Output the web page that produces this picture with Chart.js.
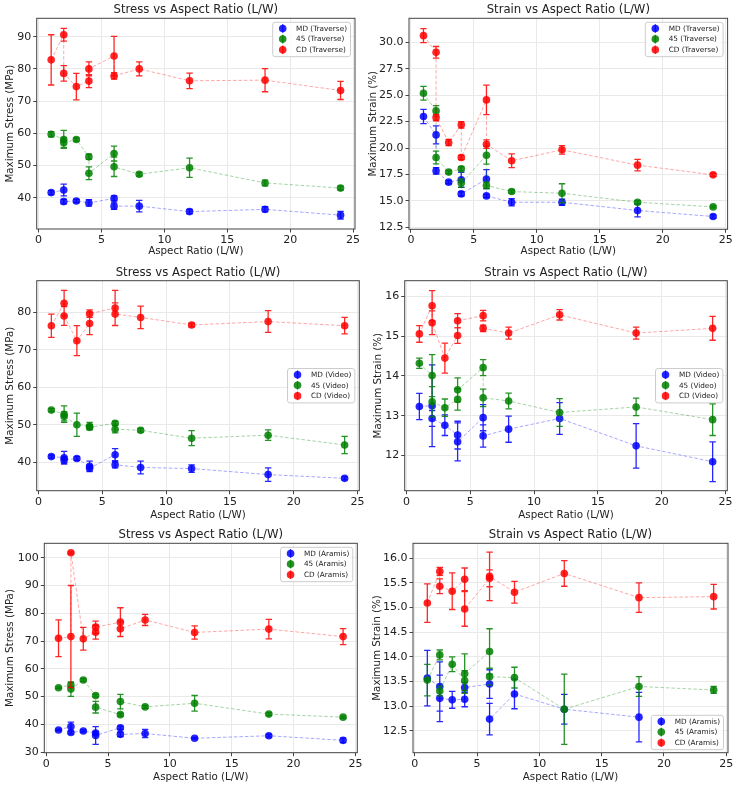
<!DOCTYPE html>
<html>
<head>
<meta charset="utf-8">
<script src="https://cdn.jsdelivr.net/npm/chart.js@4.4.1/dist/chart.umd.min.js"></script>
<style>
  html, body { margin: 0; padding: 0; background: #fff; }
  #wrap { position: relative; width: 736px; height: 788px; overflow: hidden; }
  #wrap canvas { position: absolute; left: 0; top: 0; }
</style>
</head>
<body>
<div id="wrap">
  <canvas id="stressTrav" width="736" height="788"></canvas>
  <canvas id="strainTrav" width="736" height="788"></canvas>
  <canvas id="stressVideo" width="736" height="788"></canvas>
  <canvas id="strainVideo" width="736" height="788"></canvas>
  <canvas id="stressAramis" width="736" height="788"></canvas>
  <canvas id="strainAramis" width="736" height="788"></canvas>
</div>
<script>
// x positions shared by every series (duplicates = repeated specimens)
const aspectRatio = [1, 2, 2, 3, 4, 4, 6, 6, 8, 12, 18, 24];
const xTicks = [0, 5, 10, 15, 20, 25];

// Traverse - stress
const travStressMD = [41.6, 42.4, 38.8, 39.0, 38.4, null, 39.8, 37.4, 37.4, 35.7, 36.4, 34.6];
const travStressMDErr = [0.6, 1.8, 0.7, 0.5, 1.0, null, 0.8, 1.0, 1.8, 0.7, 0.8, 1.2];
const travStress45 = [59.7, 58.1, 57.1, 58.1, 52.7, 47.6, 53.7, 49.6, 47.3, 49.3, 44.6, 43.0];
const travStress45Err = [0.8, 2.8, 1.5, 0.5, 0.8, 2.0, 2.3, 3.0, 0.6, 3.0, 0.9, 0.6];
const travStressCD = [82.8, 90.6, 78.6, 74.5, 76.2, 80.0, 84.0, 77.8, 80.0, 76.3, 76.5, 73.3];
const travStressCDErr = [7.8, 2.0, 2.4, 4.1, 2.0, 2.2, 6.1, 1.0, 2.2, 2.4, 3.6, 2.8];

// Traverse - strain
const travStrainMD = [22.98, 21.24, 17.84, 16.77, 16.99, 15.66, 17.06, 15.47, 14.87, 14.87, 14.09, 13.52];
const travStrainMDErr = [0.68, 0.85, 0.3, 0.15, 0.7, 0.2, 0.9, 0.15, 0.35, 0.3, 0.6, 0.15];
const travStrain45 = [25.18, 23.51, 19.1, 17.72, 18.03, 16.68, 19.32, 16.46, 15.88, 15.72, 14.87, 14.43];
const travStrain45Err = [0.65, 0.5, 0.6, 0.15, 0.2, 0.4, 0.85, 0.3, 0.15, 0.9, 0.15, 0.1];
const travStrainCD = [30.63, 29.05, 22.88, 20.52, 22.19, 19.1, 24.55, 20.36, 18.79, 19.83, 18.38, 17.46];
const travStrainCDErr = [0.67, 0.55, 0.3, 0.3, 0.3, 0.2, 1.4, 0.4, 0.65, 0.4, 0.55, 0.15];

// Video - stress
const vidStressMD = [41.5, 41.2, 40.6, 41.0, 38.9, 38.4, 42.0, 39.3, 38.6, 38.3, 36.7, 35.7];
const vidStressMDErr = [0.4, 1.7, 0.8, 0.5, 1.4, 0.8, 1.6, 0.8, 1.7, 1.0, 1.8, 0.4];
const vidStress45 = [53.9, 52.8, 52.2, 50.0, 49.6, 49.3, 50.4, 48.8, 48.5, 46.4, 47.2, 44.6];
const vidStress45Err = [0.4, 2.2, 1.2, 3.1, 1.0, 0.6, 0.5, 1.0, 0.5, 2.0, 1.4, 2.3];
const vidStressCD = [76.4, 82.4, 79.0, 72.4, 77.0, 79.6, 81.1, 79.5, 78.6, 76.6, 77.5, 76.4];
const vidStressCDErr = [3.1, 3.4, 2.5, 4.0, 3.0, 1.0, 4.7, 3.0, 3.0, 0.5, 2.9, 2.2];

// Video - strain
const vidStrainMD = [13.23, 13.25, 12.93, 12.76, 12.51, 12.34, 12.95, 12.49, 12.66, 12.93, 12.24, 11.84];
const vidStrainMDErr = [0.33, 1.03, 0.2, 0.26, 0.35, 0.48, 0.33, 0.28, 0.33, 0.4, 0.56, 0.5];
const vidStrain45 = [14.32, 14.01, 13.35, 13.2, 13.41, 13.65, 14.21, 13.45, 13.37, 13.08, 13.22, 12.9];
const vidStrain45Err = [0.13, 0.53, 0.38, 0.22, 0.27, 0.3, 0.2, 0.22, 0.2, 0.35, 0.22, 0.4];
const vidStrainCD = [15.06, 15.77, 15.34, 14.45, 15.02, 15.39, 15.52, 15.2, 15.08, 15.54, 15.08, 15.2];
const vidStrainCDErr = [0.21, 0.38, 0.3, 0.38, 0.2, 0.18, 0.13, 0.08, 0.15, 0.13, 0.15, 0.3];

// Aramis - stress
const arStressMD = [38.0, 39.2, 37.1, 37.6, 36.9, 36.0, 38.8, 36.4, 36.7, 35.0, 35.9, 34.25];
const arStressMDErr = [0.3, 1.6, 0.5, 0.4, 0.6, 3.2, 0.6, 0.8, 1.5, 0.3, 0.5, 0.8];
const arStress45 = [53.2, 54.2, 52.7, 56.0, 50.4, 46.2, 43.5, 48.2, 46.3, 47.6, 43.7, 42.6];
const arStress45Err = [0.3, 0.8, 2.6, 0.5, 0.5, 2.1, 0.5, 2.6, 0.5, 2.8, 0.5, 0.4];
const arStressCD = [71.0, 71.6, 101.8, 70.8, 73.2, 75.0, 76.8, 74.4, 77.6, 73.1, 74.3, 71.6];
const arStressCDErr = [6.6, 18.4, 0.3, 4.1, 2.5, 2.2, 5.2, 2.7, 2.0, 2.4, 3.5, 2.9];

// Aramis - strain
const arStrainMD = [13.57, 13.4, 13.16, 13.13, 13.14, 13.38, 13.45, 12.74, 13.25, 12.94, 12.78, null];
const arStrainMDErr = [0.56, 0.5, 0.47, 0.17, 0.15, 0.1, 0.29, 0.32, 0.3, 0.3, 0.5, null];
const arStrain45 = [13.53, 14.04, 13.31, 13.85, 13.52, 13.66, 14.11, 13.6, 13.58, 12.94, 13.4, 13.33];
const arStrain45Err = [0.32, 0.1, 0.1, 0.15, 0.2, 0.4, 0.46, 0.17, 0.21, 0.71, 0.2, 0.07];
const arStrainCD = [15.09, 15.73, 15.43, 15.33, 15.57, 14.97, 15.59, 15.63, 15.31, 15.69, 15.2, 15.22];
const arStrainCDErr = [0.39, 0.08, 0.15, 0.37, 0.23, 0.35, 0.17, 0.49, 0.22, 0.26, 0.3, 0.25];

// y tick labels
const travStressTicks = [40, 50, 60, 70, 80, 90];
const travStrainTicks = [12.5, 15.0, 17.5, 20.0, 22.5, 25.0, 27.5, 30.0];
const vidStressTicks = [40, 50, 60, 70, 80];
const vidStrainTicks = [12, 13, 14, 15, 16];
const arStressTicks = [30, 40, 50, 60, 70, 80, 90, 100];
const arStrainTicks = [12.5, 13.0, 13.5, 14.0, 14.5, 15.0, 15.5, 16.0];

const markerColors = ['rgba(0,0,255,0.85)', 'rgba(0,128,0,0.85)', 'rgba(255,0,0,0.85)'];
const lineColors = ['rgba(0,0,255,0.35)', 'rgba(0,128,0,0.35)', 'rgba(255,0,0,0.35)'];
const groups = ['MD', '45', 'CD'];

Chart.defaults.font.family = "'DejaVu Sans', sans-serif";
const TEXT = '#222';
const TITLE_SIZE = 11.7, LABEL_SIZE = 10.3, TICK_SIZE = 11;
const MARKER_R = 3.8;

// vertical error bars with caps, drawn under each dataset
const errorBars = {
    id: 'errorBars',
    beforeDatasetDraw(chart, args) {
        const ds = chart.data.datasets[args.index];
        if (!ds.errors) return;
        const y = chart.scales.y;
        const ctx = chart.ctx;
        ctx.save();
        ctx.strokeStyle = ds.pointBackgroundColor;
        ctx.lineWidth = 1.3;
        ctx.beginPath();
        args.meta.data.forEach((pt, i) => {
            const v = ds.data[i].y, e = ds.errors[i];
            if (v == null || e == null) return;
            const top = y.getPixelForValue(v + e), bot = y.getPixelForValue(v - e);
            ctx.moveTo(pt.x, top); ctx.lineTo(pt.x, bot);
            ctx.moveTo(pt.x - 3.2, top); ctx.lineTo(pt.x + 3.2, top);
            ctx.moveTo(pt.x - 3.2, bot); ctx.lineTo(pt.x + 3.2, bot);
        });
        ctx.stroke();
        ctx.restore();
    }
};

// axes frame on all four sides
const frame = {
    id: 'frame',
    afterDatasetsDraw(chart) {
        const { ctx, chartArea: a } = chart;
        ctx.save();
        ctx.strokeStyle = '#444';
        ctx.lineWidth = 1;
        ctx.strokeRect(a.left, a.top, a.right - a.left, a.bottom - a.top);
        ctx.restore();
    }
};

// matplotlib-like legend box inside the plot
const boxLegend = {
    id: 'boxLegend',
    afterDraw(chart, args, opts) {
        const { ctx, chartArea: a } = chart;
        const dsets = chart.data.datasets;
        ctx.save();
        ctx.font = "7.3px 'DejaVu Sans'";
        const textW = Math.max(...dsets.map(d => ctx.measureText(d.label).width));
        const w = 23.4 + textW + 3.5, h = 34.4;
        const left = a.right - 4.5 - w;
        let top;
        if (opts.pos === 'upper') top = a.top + 4;
        else if (opts.pos === 'center') top = (a.top + a.bottom) / 2 - h / 2;
        else top = a.bottom - 3 - h;
        const r = 2.5;
        ctx.beginPath();
        ctx.moveTo(left + r, top);
        ctx.arcTo(left + w, top, left + w, top + h, r);
        ctx.arcTo(left + w, top + h, left, top + h, r);
        ctx.arcTo(left, top + h, left, top, r);
        ctx.arcTo(left, top, left + w, top, r);
        ctx.closePath();
        ctx.fillStyle = 'rgba(255,255,255,0.8)';
        ctx.fill();
        ctx.strokeStyle = '#cccccc';
        ctx.lineWidth = 1;
        ctx.stroke();
        dsets.forEach((d, i) => {
            const cy = top + 6.2 + i * 10.6, cx = left + 10;
            ctx.strokeStyle = d.pointBackgroundColor;
            ctx.lineWidth = 1.3;
            ctx.beginPath();
            ctx.moveTo(cx, cy - 4.3); ctx.lineTo(cx, cy + 4.3);
            ctx.stroke();
            ctx.fillStyle = d.pointBackgroundColor;
            ctx.beginPath();
            ctx.arc(cx, cy, MARKER_R, 0, Math.PI * 2);
            ctx.fill();
            ctx.fillStyle = TEXT;
            ctx.textBaseline = 'middle';
            ctx.fillText(d.label, left + 23.4, cy + 0.5);
        });
        ctx.restore();
    }
};

function makeChart(id, cfg) {
    const titleLH = TITLE_SIZE * 1.2, labelLH = LABEL_SIZE * 1.2;
    const p = cfg.plot;
    const pad = {
        top: cfg.titleY - titleLH / 2,
        left: cfg.yLabelX - labelLH / 2,
        bottom: 788 - (cfg.xLabelY + labelLH / 2),
        right: 736 - p.R
    };
    const yWidth = p.L - pad.left;
    const xHeight = (788 - pad.bottom) - p.B;

    const datasets = cfg.series.map((s, i) => ({
        label: groups[i] + ' (' + cfg.method + ')',
        data: aspectRatio.map((x, j) => ({ x: x, y: s[0][j] })),
        errors: s[1],
        borderColor: lineColors[i],
        borderWidth: 1,
        borderDash: [3.5, 2],
        pointBackgroundColor: markerColors[i],
        pointBorderWidth: 0,
        pointRadius: MARKER_R,
        spanGaps: true,
        tension: 0,
        order: 2 - i
    }));

    return new Chart(document.getElementById(id), {
        type: 'line',
        data: { datasets },
        plugins: [errorBars, frame, boxLegend],
        options: {
            responsive: false,
            animation: false,
            layout: { padding: pad },
            plugins: {
                legend: { display: false },
                tooltip: { enabled: false },
                title: {
                    display: true,
                    text: cfg.title,
                    fullSize: false,
                    color: TEXT,
                    font: { size: TITLE_SIZE, weight: 'normal' },
                    padding: { top: 0, bottom: p.T - (cfg.titleY + titleLH / 2) }
                },
                boxLegend: { pos: cfg.legend }
            },
            scales: {
                x: {
                    type: 'linear',
                    min: -0.15,
                    max: 25.15,
                    afterBuildTicks: s => { s.ticks = xTicks.map(v => ({ value: v })); },
                    afterFit: s => { s.height = xHeight; },
                    ticks: { color: TEXT, font: { size: TICK_SIZE }, padding: 1, maxRotation: 0 },
                    grid: { color: '#e9e9e9', tickColor: '#444', tickLength: 3.5 },
                    border: { display: false },
                    title: { display: true, text: 'Aspect Ratio (L/W)', color: TEXT, font: { size: LABEL_SIZE }, padding: 0 }
                },
                y: {
                    type: 'linear',
                    min: cfg.yMin,
                    max: cfg.yMax,
                    afterBuildTicks: s => { s.ticks = cfg.yTicks.map(v => ({ value: v })); },
                    afterFit: s => { s.width = yWidth; },
                    ticks: { color: TEXT, font: { size: TICK_SIZE }, padding: 2, callback: v => v.toFixed(cfg.decimals) },
                    grid: { color: '#e9e9e9', tickColor: '#444', tickLength: 3.5 },
                    border: { display: false },
                    title: { display: true, text: cfg.yLabel, color: TEXT, font: { size: LABEL_SIZE }, padding: 0 }
                }
            }
        }
    });
}

const stressTitle = 'Stress vs Aspect Ratio (L/W)';
const strainTitle = 'Strain vs Aspect Ratio (L/W)';

makeChart('stressTrav', {
    title: stressTitle, yLabel: 'Maximum Stress (MPa)', method: 'Traverse', legend: 'upper',
    series: [[travStressMD, travStressMDErr], [travStress45, travStress45Err], [travStressCD, travStressCDErr]],
    yMin: 30.3, yMax: 95.7, yTicks: travStressTicks, decimals: 0,
    plot: { L: 36.7, T: 18.3, R: 355, B: 229 }, titleY: 10, xLabelY: 251.7, yLabelX: 10
});
makeChart('strainTrav', {
    title: strainTitle, yLabel: 'Maximum Strain (%)', method: 'Traverse', legend: 'upper',
    series: [[travStrainMD, travStrainMDErr], [travStrain45, travStrain45Err], [travStrainCD, travStrainCDErr]],
    yMin: 12.31, yMax: 32.27, yTicks: travStrainTicks, decimals: 1,
    plot: { L: 409, T: 18.3, R: 727.6, B: 229.3 }, titleY: 10, xLabelY: 251.7, yLabelX: 373
});
makeChart('stressVideo', {
    title: stressTitle, yLabel: 'Maximum Stress (MPa)', method: 'Video', legend: 'center',
    series: [[vidStressMD, vidStressMDErr], [vidStress45, vidStress45Err], [vidStressCD, vidStressCDErr]],
    yMin: 32.4, yMax: 88.4, yTicks: vidStressTicks, decimals: 0,
    plot: { L: 36.7, T: 280.7, R: 359.3, B: 490.7 }, titleY: 272.7, xLabelY: 515, yLabelX: 10
});
makeChart('strainVideo', {
    title: strainTitle, yLabel: 'Maximum Strain (%)', method: 'Video', legend: 'center',
    series: [[vidStrainMD, vidStrainMDErr], [vidStrain45, vidStrain45Err], [vidStrainCD, vidStrainCDErr]],
    yMin: 11.11, yMax: 16.40, yTicks: vidStrainTicks, decimals: 0,
    plot: { L: 404.7, T: 280.7, R: 727.3, B: 490.7 }, titleY: 272.7, xLabelY: 515, yLabelX: 378
});
makeChart('stressAramis', {
    title: stressTitle, yLabel: 'Maximum Stress (MPa)', method: 'Aramis', legend: 'upper',
    series: [[arStressMD, arStressMDErr], [arStress45, arStress45Err], [arStressCD, arStressCDErr]],
    yMin: 29.8, yMax: 105.2, yTicks: arStressTicks, decimals: 0,
    plot: { L: 44.3, T: 543.3, R: 357.3, B: 752.7 }, titleY: 535, xLabelY: 777.3, yLabelX: 10
});
makeChart('strainAramis', {
    title: strainTitle, yLabel: 'Maximum Strain (%)', method: 'Aramis', legend: 'lower',
    series: [[arStrainMD, arStrainMDErr], [arStrain45, arStrain45Err], [arStrainCD, arStrainCDErr]],
    yMin: 12.06, yMax: 16.30, yTicks: arStrainTicks, decimals: 1,
    plot: { L: 413, T: 543.3, R: 728, B: 752.7 }, titleY: 535, xLabelY: 777.3, yLabelX: 377.3
});
</script>
</body>
</html>
